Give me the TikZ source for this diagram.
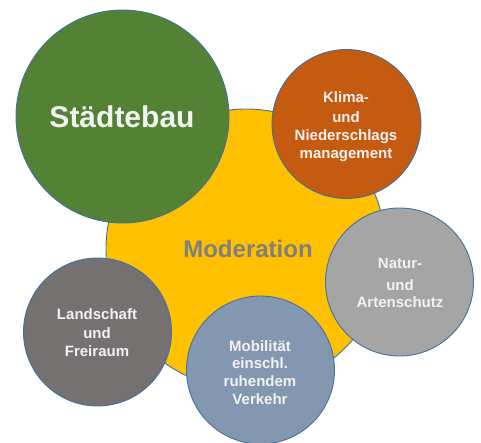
\documentclass[tikz,border=0pt]{standalone}
\usepackage{fontspec}
\setmainfont{Liberation Sans}
\definecolor{cgreen}{HTML}{548235}
\definecolor{corange}{HTML}{C55A11}
\definecolor{cyellow}{HTML}{FFC000}
\definecolor{cgrayl}{HTML}{A5A5A5}
\definecolor{cgrayd}{HTML}{767171}
\definecolor{cblue}{HTML}{8497B0}
\definecolor{cedge}{HTML}{41719C}
\definecolor{ctext}{HTML}{F2F2F2}
\definecolor{cmod}{HTML}{7F7F7F}
\tikzset{
  bubble/.style={circle, draw=cedge, line width=0.9pt, inner sep=0pt},
  ltext/.style={text=ctext, font=\bfseries\fontsize{15}{17.8}\selectfont, align=center, inner sep=0pt},
}
\begin{document}
\begin{tikzpicture}[x=1pt,y=1pt]
\useasboundingbox (0,0) rectangle (481,442);
% y_tikz = 442 - y_image
\node[bubble, fill=cyellow, minimum size=280pt] (mod) at (246,193) {};
\node[bubble, fill=cgreen, minimum size=213pt] (stb) at (122.5,325.5) {};
\node[bubble, fill=corange, minimum size=149pt] (kli) at (346.5,318) {};
\node[bubble, fill=cgrayl, minimum size=148pt] (nat) at (399.5,160) {};
\node[bubble, fill=cgrayd, minimum size=148pt] (lan) at (97.5,110) {};
\node[bubble, fill=cblue, minimum size=148pt] (mob) at (260.5,72) {};
\node[text=cmod, font=\bfseries\fontsize{24}{28}\selectfont, inner sep=0pt] (modt) at (248,193.5) {Moderation};
\node[text=ctext, font=\bfseries\fontsize{30}{34}\selectfont, inner sep=0pt] (stbt) at (122,325) {Städtebau};
\node[ltext] (klit) at (346,315.5) {Klima-\\[3pt] und\\ Niederschlags\\ management};
\node[ltext] (natt) at (400,159) {Natur-\\[4pt] und\\ Artenschutz};
\node[ltext] (lant) at (97,109) {Landschaft\\[0.7pt] und\\[0.7pt] Freiraum};
\node[ltext] (mobt) at (260,69.5) {Mobilität\\ einschl.\\ ruhendem\\ Verkehr};
\end{tikzpicture}
\end{document}
